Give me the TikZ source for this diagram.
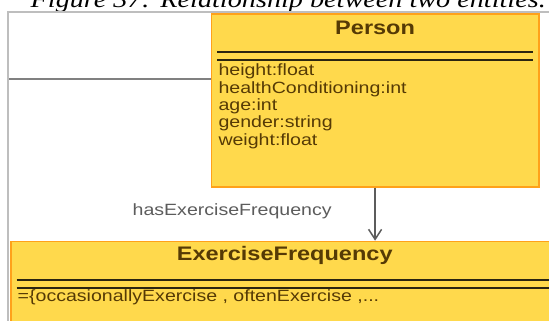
\documentclass[tikz,border=0pt]{standalone}
\usepackage{fontspec}
\setmainfont{Liberation Sans}[FakeStretch=1.2]
\newfontfamily\capfont{Liberation Serif}[FakeStretch=1.2]
\usetikzlibrary{positioning,arrows.meta}
\definecolor{umlfill}{HTML}{FFD94C}
\definecolor{umledge}{HTML}{FFA11A}
\definecolor{umlink}{HTML}{553A05}
\definecolor{sepink}{HTML}{2B2510}
\definecolor{linkgray}{HTML}{5C5C5C}
\definecolor{framegray}{HTML}{BEBEBE}
\tikzset{
  classbox/.style={draw=umledge, fill=umlfill, line width=1.5pt, inner sep=0pt, anchor=north west},
  classtitle/.style={text=umlink, font=\fontsize{19.6}{20}\selectfont\bfseries, inner sep=0pt, anchor=base},
  attrtext/.style={text=umlink, font=\fontsize{16.3}{17.5}\selectfont, inner sep=0pt, anchor=base west},
  sepline/.style={draw=sepink, line width=2pt},
  linklabel/.style={text=linkgray, font=\fontsize{16.3}{17.5}\selectfont, inner sep=0pt, anchor=base east},
  assoc/.style={draw=linkgray, line width=1.5pt, -{Straight Barb[length=10pt,width=13pt,line width=1.5pt]}}
}
\begin{document}
\begin{tikzpicture}[x=1pt, y=-1pt]
        \useasboundingbox[fill=white] (0,0) rectangle (549,321);

        \node[text=black, font=\fontsize{23.5}{24}\capfont\itshape, inner sep=0pt, anchor=base east]
          (caption) at (546,8) {Figure 37: Relationship between two entities.};
        \draw[framegray, line width=2pt] (8.3,330) -- (8.3,12.3) -- (560,12.3);

        \node[classbox, minimum width=327.3pt, minimum height=172.5pt] (person) at (210.7,13.5) {};
        \node[classbox, minimum width=548pt, minimum height=100pt] (freq) at (10,240.7) {};

        \node[classtitle] (personname) at ([yshift=-21.2pt]person.north) {Person};
        \node[classtitle] (freqname) at ([yshift=-20pt]freq.north) {ExerciseFrequency};

        \foreach \cls in {person, freq}{
          \foreach \dy in {38.8, 46.8}{
            \draw[sepline] ([shift={(6.5,\dy)}]\cls.north west) -- ([shift={(-6.5,\dy)}]\cls.north east);
          }
        }

        \foreach \a [count=\i] in {height:float, healthConditioning:int, age:int, gender:string, weight:float}{
          \node[attrtext] (attr\i) at ([shift={(7.6,44.5+17.5*\i)}]person.north west) {\a};
        }
        \node[attrtext] (literals) at ([shift={(7.5,60.5)}]freq.north west)
          {=\{occasionallyExercise , oftenExercise ,...};

        \coordinate (stub) at (9.3,79);
        \draw[color=gray, line width=1.5pt] (stub) -- (stub -| person.west);

        \draw[assoc] (person.south) -- (person.south |- freq.north);
        \node[linklabel] (rolename) at (331.8,215) {hasExerciseFrequency};
      \end{tikzpicture}
\end{document}
